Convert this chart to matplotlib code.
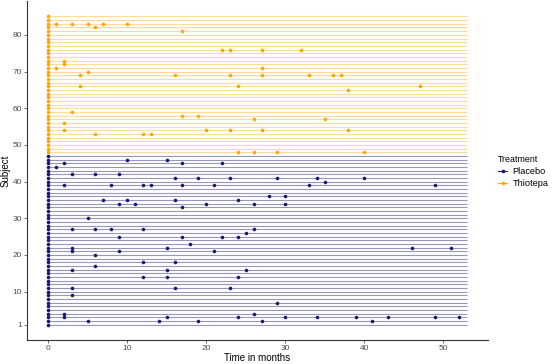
import matplotlib.pyplot as plt
from matplotlib.lines import Line2D

plt.rcParams['font.family'] = ['Liberation Sans', 'DejaVu Sans']

# recurrence times (months) per subject, besides the start at 0
placebo_recurrences = [
    [], [5, 14, 19, 27, 41], [2, 15, 24, 30, 34, 39, 43, 49, 52], [2, 26], [], [],
    [29], [], [3], [], [3, 16, 23], [], [], [12, 15, 24], [], [3, 15, 25],
    [6], [12, 16], [], [6], [3, 9, 21], [3, 15, 46, 51], [18], [],
    [9, 17, 22, 24], [25], [3, 6, 8, 12, 26], [], [], [5], [], [],
    [17], [9, 11, 20, 26, 30], [7, 10, 16, 24], [28, 30], [], [],
    [2, 8, 12, 13, 17, 21, 33, 49], [35], [16, 19, 23, 29, 34, 40], [3, 6, 9],
    [], [1], [2, 17, 22], [10, 15], [],
]
thiotepa_recurrences = [
    [24, 26, 29, 40], [], [], [], [], [6, 12, 13], [2, 20, 23, 27, 38], [],
    [2], [26, 35], [17, 19], [3], [], [], [], [], [], [38], [4, 24, 47],
    [], [], [4, 16, 23, 27, 33, 36, 37], [5], [1, 27], [2], [2], [], [],
    [22, 23, 27, 32], [], [], [], [], [17], [6], [1, 3, 5, 7, 10], [], [],
]
followup_end = 53
treatments = ['Placebo', 'Thiotepa']
colors = {'Placebo': '#191970', 'Thiotepa': '#FFA500'}
line_alpha = {'Placebo': 0.45, 'Thiotepa': 0.4}

fig = plt.figure(figsize=(5.53, 3.64), dpi=100)
ax = fig.add_axes([0.049, 0.066, 0.8335, 0.931])

subject = 1
for name, recs in zip(treatments, [placebo_recurrences, thiotepa_recurrences]):
    subs = list(range(subject, subject + len(recs)))
    ax.hlines(subs, 0, followup_end, color=colors[name], alpha=line_alpha[name], lw=0.8, zorder=1)
    xs, ys = [], []
    for s, times in zip(subs, recs):
        for t in [0] + times:
            xs.append(t)
            ys.append(s)
    ax.plot(xs, ys, 'o', color=colors[name], ms=2.6, mew=0, zorder=2)
    subject += len(recs)

n_subjects = subject - 1
ax.set_xlim(-0.05 * followup_end, 1.05 * followup_end)
span = n_subjects - 1
ax.set_ylim(1 - 0.05 * span, n_subjects + 0.05 * span)
ax.set_xticks([0, 10, 20, 30, 40, 50])
ax.set_yticks([1, 10, 20, 30, 40, 50, 60, 70, 80])

for side in ['top', 'right']:
    ax.spines[side].set_visible(False)
for side in ['left', 'bottom']:
    ax.spines[side].set_color('#333333')
    ax.spines[side].set_linewidth(0.8)
ax.tick_params(colors='#333333', labelcolor='#4D4D4D', labelsize=6, length=2, width=0.5, pad=1.5)

ax.set_xlabel('Time in months', fontsize=7, labelpad=0.5)
ax.set_ylabel('Subject', fontsize=7, labelpad=1.5)

handles = [Line2D([0], [0], color=colors[n], marker='o', ms=2.6, mew=0, lw=0.8) for n in treatments]
leg = fig.legend(handles, treatments, title='Treatment', loc='upper left',
                 bbox_to_anchor=(0.901, 0.574), frameon=False, fontsize=6.6,
                 title_fontsize=6.4, handlelength=1.0, handletextpad=0.55,
                 labelspacing=0.35, alignment='left', borderpad=0, borderaxespad=0)

fig.savefig('out.png', dpi=100)
